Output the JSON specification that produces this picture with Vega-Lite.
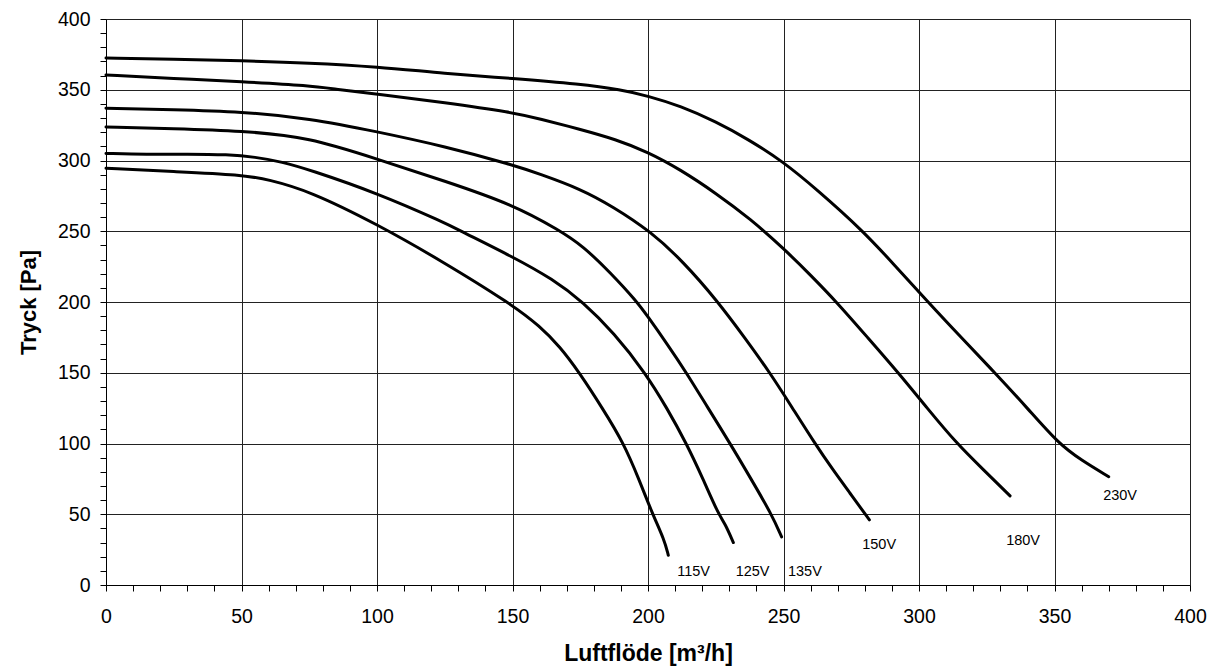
{
  "$schema": "https://vega.github.io/schema/vega-lite/v6.json",
  "width": 1084,
  "height": 566,
  "autosize": {"type": "none"},
  "padding": {"left": 106, "top": 19, "right": 29, "bottom": 84},
  "background": "white",
  "config": {"view": {"stroke": null}, "font": "Liberation Sans"},
  "datasets": {
    "curves": [
      {"series": "230V", "q": 0, "p": 372.5}, {"series": "230V", "q": 25, "p": 371.5}, {"series": "230V", "q": 50, "p": 370.5}, {"series": "230V", "q": 75, "p": 369}, {"series": "230V", "q": 100, "p": 366.3}, {"series": "230V", "q": 125, "p": 361.5}, {"series": "230V", "q": 150, "p": 358}, {"series": "230V", "q": 175, "p": 354}, {"series": "230V", "q": 190, "p": 350}, {"series": "230V", "q": 200, "p": 345.6}, {"series": "230V", "q": 212, "p": 338.5}, {"series": "230V", "q": 225, "p": 327.5}, {"series": "230V", "q": 237, "p": 315}, {"series": "230V", "q": 250, "p": 299}, {"series": "230V", "q": 262, "p": 280}, {"series": "230V", "q": 279.5, "p": 250}, {"series": "230V", "q": 291, "p": 226}, {"series": "230V", "q": 302.8, "p": 201}, {"series": "230V", "q": 316, "p": 174}, {"series": "230V", "q": 328, "p": 150}, {"series": "230V", "q": 340, "p": 125}, {"series": "230V", "q": 351.4, "p": 100}, {"series": "230V", "q": 360, "p": 88}, {"series": "230V", "q": 370, "p": 76.5},
      {"series": "180V", "q": 0, "p": 360.5}, {"series": "180V", "q": 25, "p": 358}, {"series": "180V", "q": 50, "p": 355.7}, {"series": "180V", "q": 75, "p": 353}, {"series": "180V", "q": 86, "p": 350}, {"series": "180V", "q": 100, "p": 347}, {"series": "180V", "q": 125, "p": 341}, {"series": "180V", "q": 150, "p": 334}, {"series": "180V", "q": 160, "p": 329.5}, {"series": "180V", "q": 175, "p": 322}, {"series": "180V", "q": 188, "p": 315}, {"series": "180V", "q": 200, "p": 306}, {"series": "180V", "q": 212, "p": 293.5}, {"series": "180V", "q": 225, "p": 277}, {"series": "180V", "q": 237.6, "p": 259}, {"series": "180V", "q": 250.5, "p": 237}, {"series": "180V", "q": 260, "p": 219}, {"series": "180V", "q": 269.6, "p": 200}, {"series": "180V", "q": 281, "p": 175}, {"series": "180V", "q": 292.4, "p": 150}, {"series": "180V", "q": 303, "p": 125}, {"series": "180V", "q": 313.9, "p": 100}, {"series": "180V", "q": 324, "p": 81}, {"series": "180V", "q": 333.6, "p": 63},
      {"series": "150V", "q": 0, "p": 337}, {"series": "150V", "q": 25, "p": 336}, {"series": "150V", "q": 50, "p": 334.5}, {"series": "150V", "q": 75, "p": 329.8}, {"series": "150V", "q": 100, "p": 320.4}, {"series": "150V", "q": 125, "p": 310}, {"series": "150V", "q": 150, "p": 297}, {"series": "150V", "q": 160, "p": 290.5}, {"series": "150V", "q": 175, "p": 280}, {"series": "150V", "q": 187, "p": 267.5}, {"series": "150V", "q": 200.9, "p": 250}, {"series": "150V", "q": 213, "p": 228.5}, {"series": "150V", "q": 225.5, "p": 201}, {"series": "150V", "q": 236, "p": 174}, {"series": "150V", "q": 245, "p": 150}, {"series": "150V", "q": 253, "p": 126}, {"series": "150V", "q": 261.6, "p": 100}, {"series": "150V", "q": 268, "p": 82}, {"series": "150V", "q": 274.5, "p": 65}, {"series": "150V", "q": 281.7, "p": 46},
      {"series": "135V", "q": 0, "p": 323.7}, {"series": "135V", "q": 25, "p": 322.5}, {"series": "135V", "q": 50, "p": 321}, {"series": "135V", "q": 75, "p": 316.5}, {"series": "135V", "q": 100, "p": 301}, {"series": "135V", "q": 125, "p": 285.5}, {"series": "135V", "q": 150, "p": 269}, {"series": "135V", "q": 167.5, "p": 250.5}, {"series": "135V", "q": 176, "p": 239.5}, {"series": "135V", "q": 186, "p": 221}, {"series": "135V", "q": 195.8, "p": 200.5}, {"series": "135V", "q": 200, "p": 189.5}, {"series": "135V", "q": 207, "p": 170.5}, {"series": "135V", "q": 214.2, "p": 150}, {"series": "135V", "q": 222, "p": 125.5}, {"series": "135V", "q": 230.3, "p": 100}, {"series": "135V", "q": 238, "p": 75}, {"series": "135V", "q": 245.6, "p": 50}, {"series": "135V", "q": 249.3, "p": 34},
      {"series": "125V", "q": 0, "p": 305}, {"series": "125V", "q": 15, "p": 304.3}, {"series": "125V", "q": 30, "p": 304.6}, {"series": "125V", "q": 45, "p": 304.2}, {"series": "125V", "q": 55, "p": 302.5}, {"series": "125V", "q": 65, "p": 299}, {"series": "125V", "q": 75, "p": 293.5}, {"series": "125V", "q": 100, "p": 277}, {"series": "125V", "q": 125, "p": 256}, {"series": "125V", "q": 131, "p": 250}, {"series": "125V", "q": 150, "p": 232}, {"series": "125V", "q": 165, "p": 216}, {"series": "125V", "q": 176, "p": 200}, {"series": "125V", "q": 187.5, "p": 178}, {"series": "125V", "q": 199, "p": 150}, {"series": "125V", "q": 207, "p": 125}, {"series": "125V", "q": 214.2, "p": 100}, {"series": "125V", "q": 220.3, "p": 75}, {"series": "125V", "q": 226, "p": 50}, {"series": "125V", "q": 228.4, "p": 43.6}, {"series": "125V", "q": 231.5, "p": 30},
      {"series": "115V", "q": 0, "p": 294.5}, {"series": "115V", "q": 25, "p": 292.2}, {"series": "115V", "q": 50, "p": 290}, {"series": "115V", "q": 60, "p": 286.5}, {"series": "115V", "q": 75, "p": 278.5}, {"series": "115V", "q": 100, "p": 255}, {"series": "115V", "q": 123, "p": 230}, {"series": "115V", "q": 150, "p": 198}, {"series": "115V", "q": 160, "p": 183}, {"series": "115V", "q": 167.5, "p": 168.5}, {"series": "115V", "q": 174.7, "p": 150}, {"series": "115V", "q": 183, "p": 125.5}, {"series": "115V", "q": 191.1, "p": 100}, {"series": "115V", "q": 196.6, "p": 75}, {"series": "115V", "q": 201.7, "p": 50}, {"series": "115V", "q": 206, "p": 32}, {"series": "115V", "q": 207.5, "p": 21}
    ],
    "labels": [
      {"label": "115V", "q": 216.8, "p": 9.4},
      {"label": "125V", "q": 238.6, "p": 9.4},
      {"label": "135V", "q": 257.9, "p": 9.4},
      {"label": "150V", "q": 285.3, "p": 28.3},
      {"label": "180V", "q": 338.4, "p": 31},
      {"label": "230V", "q": 374.2, "p": 62.9}
    ]
  },
  "layer": [
    {
      "data": {"name": "curves"},
      "mark": {"type": "line", "interpolate": "basis", "strokeWidth": 3, "color": "black", "strokeCap": "round", "strokeJoin": "round"},
      "encoding": {
        "x": {
          "field": "q", "type": "quantitative",
          "scale": {"domain": [0, 400], "nice": false, "zero": false},
          "axis": {
            "title": "Luftflöde [m³/h]",
            "values": [0,10,20,30,40,50,60,70,80,90,100,110,120,130,140,150,160,170,180,190,200,210,220,230,240,250,260,270,280,290,300,310,320,330,340,350,360,370,380,390,400],
            "tickCount": 100,
            "labelExpr": "datum.value % 50 === 0 ? datum.label : ''",
            "labelOverlap": false, "labelFlush": false, "labelBound": false,
            "grid": true, "gridColor": "#222", "gridWidth": 1,
            "gridOpacity": {"condition": {"test": "datum.value % 50 === 0", "value": 1}, "value": 0},
            "domainColor": "#000", "domainWidth": 1,
            "tickColor": "#000", "tickSize": 6, "tickWidth": 1,
            "labelFontSize": 19.5, "labelColor": "#000", "labelPadding": 16, "labelFont": "Liberation Sans",
            "titleFontSize": 23, "titleFontWeight": "bold", "titleColor": "#000", "titlePadding": 17, "titleFont": "Liberation Sans"
          }
        },
        "y": {
          "field": "p", "type": "quantitative",
          "scale": {"domain": [0, 400], "nice": false},
          "axis": {
            "title": "Tryck [Pa]",
            "values": [0,10,20,30,40,50,60,70,80,90,100,110,120,130,140,150,160,170,180,190,200,210,220,230,240,250,260,270,280,290,300,310,320,330,340,350,360,370,380,390,400],
            "tickCount": 100,
            "labelExpr": "datum.value % 50 === 0 ? datum.label : ''",
            "labelOverlap": false, "labelFlush": false, "labelBound": false,
            "grid": true, "gridColor": "#222", "gridWidth": 1,
            "gridOpacity": {"condition": {"test": "datum.value % 50 === 0", "value": 1}, "value": 0},
            "domainColor": "#000", "domainWidth": 1,
            "tickColor": "#000", "tickSize": 6, "tickWidth": 1,
            "labelFontSize": 19.5, "labelColor": "#000", "labelPadding": 10, "labelFont": "Liberation Sans",
            "titleFontSize": 22, "titleFontWeight": "bold", "titleColor": "#000", "titlePadding": 17, "titleFont": "Liberation Sans"
          }
        },
        "detail": {"field": "series", "type": "nominal"}
      }
    },
    {
      "data": {"name": "labels"},
      "mark": {"type": "text", "fontSize": 14.5, "font": "Liberation Sans", "color": "#000"},
      "encoding": {
        "x": {"field": "q", "type": "quantitative"},
        "y": {"field": "p", "type": "quantitative"},
        "text": {"field": "label", "type": "nominal"}
      }
    }
  ]
}
